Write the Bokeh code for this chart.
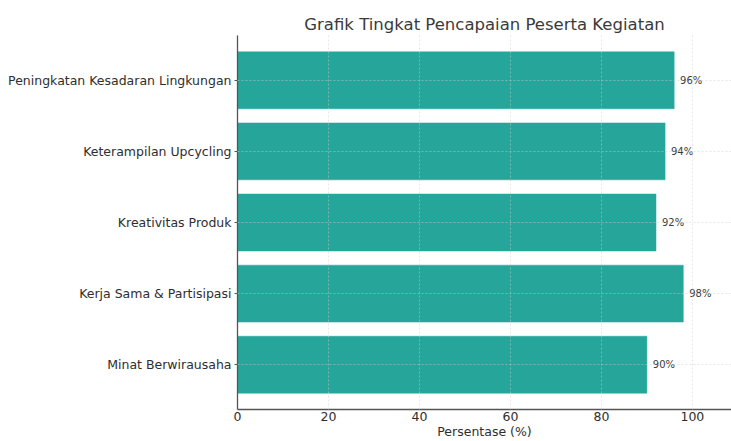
from bokeh.plotting import figure
from bokeh.models import FactorRange, ColumnDataSource, FixedTicker
from bokeh.embed import file_html
from bokeh.resources import INLINE
from bokeh.core.properties import value

categories = ["Peningkatan Kesadaran Lingkungan", "Keterampilan Upcycling",
              "Kreativitas Produk", "Kerja Sama & Partisipasi", "Minat Berwirausaha"]
values = [96, 94, 92, 98, 90]
labels = [f"{v}%" for v in values]
x_ticks = [0, 20, 40, 60, 80, 100]

FONT = "DejaVu Sans"
BAR = "#26a69a"

factors = list(reversed(categories))
src = ColumnDataSource(dict(cat=categories, val=values, lab=labels,
                            lx=[v + 1.3 for v in values]))

p = figure(width=731, height=441, output_backend="svg", toolbar_location=None,
           y_range=FactorRange(*factors, range_padding=0.052, range_padding_units="percent"),
           x_range=(0, 108.6), min_border_left=237, min_border_right=0,
           min_border_top=35, min_border_bottom=31,
           title="Grafik Tingkat Pencapaian Peserta Kegiatan")
p.outline_line_color = None

p.title.align = "center"
p.title.offset = 3
p.title.standoff = 4
p.title.text_font = FONT
p.title.text_font_size = "16.5px"
p.title.text_font_style = "normal"
p.title.text_color = "#3a3a3a"

p.hbar(y="cat", right="val", left=0, height=0.8, source=src,
       fill_color=BAR, line_color=BAR, line_width=0.5)

p.text(x="lx", y="cat", text="lab", source=src, text_font=value(FONT),
       text_font_size="10px", text_color="#3a3a3a", text_baseline="middle",
       text_align="left")

for g in (p.xgrid, p.ygrid):
    g.grid_line_color = "#cccccc"
    g.grid_line_dash = "2 2"
    g.grid_line_width = 0.8
    g.grid_line_alpha = 0.6
    g.level = "overlay"

p.xaxis.ticker = FixedTicker(ticks=x_ticks)
for ax in (p.xaxis[0], p.yaxis[0]):
    ax.axis_line_color = "#555555"
    ax.axis_line_width = 1.3
    ax.major_tick_in = 0
    ax.major_tick_out = 3
    ax.major_tick_line_color = "#555555"
    ax.minor_tick_line_color = None
    ax.major_label_text_font = FONT
    ax.major_label_text_font_size = "12.5px"
    ax.major_label_text_color = "#2e2e2e"
    ax.major_label_standoff = 3

p.xaxis.major_tick_out = 0
p.xaxis.major_label_standoff = 2
p.xaxis.axis_label = "Persentase (%)"
p.xaxis.axis_label_standoff = 0
p.xaxis.axis_label_text_font = FONT
p.xaxis.axis_label_text_font_size = "12.5px"
p.xaxis.axis_label_text_font_style = "normal"
p.xaxis.axis_label_text_color = "#2e2e2e"

open("out.html", "w").write(file_html(p, INLINE))
